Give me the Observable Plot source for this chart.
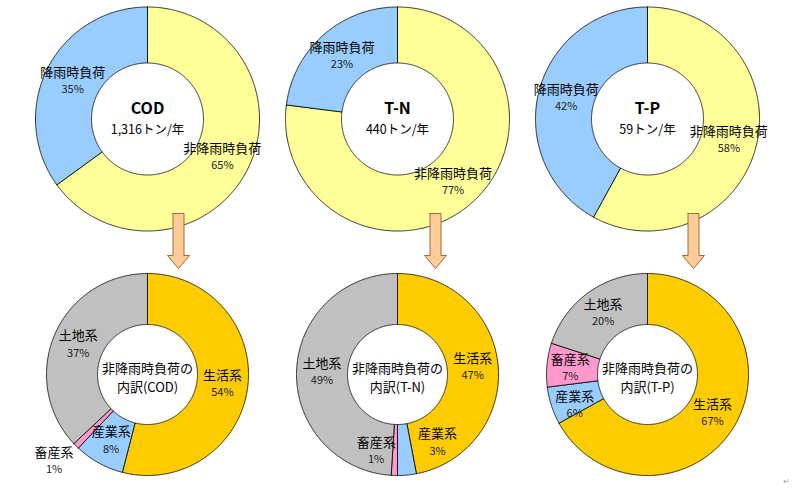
<!DOCTYPE html>
<html>
<head>
<meta charset="utf-8">
<script src="https://cdn.jsdelivr.net/npm/d3@7"></script>
<script src="https://cdn.jsdelivr.net/npm/@observablehq/plot@0.6"></script>
<style>
  html, body { margin: 0; padding: 0; background: #fff; }
  #chart svg { display: block; }
</style>
</head>
<body>
<div id="chart"></div>
<script>
// ---- data ----
const indicators = ["COD", "T-N", "T-P"];
const totals = ["1,316トン/年", "440トン/年", "59トン/年"];
const loadCategories = ["非降雨時負荷", "降雨時負荷"];
const nonRainShare = [65, 77, 58];
const rainShare = [35, 23, 42];
const sourceCategories = ["生活系", "産業系", "畜産系", "土地系"];
const codSources = [54, 8, 1, 37];
const tnSources = [47, 3, 1, 49];
const tpSources = [67, 6, 7, 20];
const breakdownTitle = "非降雨時負荷の";
const breakdownSub = ["内訳(COD)", "内訳(T-N)", "内訳(T-P)"];

// ---- styles / layout ----
const loadColors = ["#FFFF99", "#99CCFF"];
const sourceColors = ["#FFCC00", "#99CCFF", "#FF99CC", "#C0C0C0"];
const centersX = [147, 397, 647];
const topRing = {cy: 118.5, r: 112, r0: 56};
const botRing = {cy: 374, r: 101, r0: 50};
const arrowX = [178, 435, 693];
const arrowGeom = {top: 213, shoulder: 255, tip: 268, shaft: 5.5, head: 11};
// manual label nudges for small slices (ring, slice) -> [dx, dy]
const labelNudge = {"b0-2": [-40, 33], "b1-1": [33, -7], "b1-2": [-19, 1], "b2-1": [-1, 7], "b2-2": [-2, 1]};
const FONT = "'Noto Sans CJK JP', 'Noto Sans', sans-serif";

// ---- geometry built from the data ----
const polys = [];
const labels = [];
function addRing(key, cx, ring, values, names, colors) {
  const total = d3.sum(values);
  let acc = 0;
  values.forEach((v, i) => {
    const a0 = acc / total * 2 * Math.PI;
    acc += v;
    const a1 = acc / total * 2 * Math.PI;
    const id = key + "-" + i;
    const n = Math.max(2, Math.ceil((a1 - a0) / (Math.PI / 360)));
    const pts = [];
    for (let k = 0; k <= n; k++) {
      const a = a0 + (a1 - a0) * k / n;
      pts.push([cx + ring.r * Math.sin(a), ring.cy - ring.r * Math.cos(a)]);
    }
    for (let k = n; k >= 0; k--) {
      const a = a0 + (a1 - a0) * k / n;
      pts.push([cx + ring.r0 * Math.sin(a), ring.cy - ring.r0 * Math.cos(a)]);
    }
    pts.push(pts[0]);
    pts.forEach(([x, y]) => polys.push({id, x, y, color: colors[i]}));
    const am = (a0 + a1) / 2, rm = (ring.r + ring.r0) / 2;
    const [dx, dy] = labelNudge[id] || [0, 0];
    labels.push({
      x: cx + rm * Math.sin(am) + dx,
      y: ring.cy - rm * Math.cos(am) + dy,
      name: names[i],
      pct: v + "%"
    });
  });
}
indicators.forEach((ind, j) => {
  addRing("t" + j, centersX[j], topRing, [nonRainShare[j], rainShare[j]], loadCategories, loadColors);
});
[codSources, tnSources, tpSources].forEach((vals, j) => {
  addRing("b" + j, centersX[j], botRing, vals, sourceCategories, sourceColors);
});

const arrows = [];
arrowX.forEach((x, i) => {
  const g = arrowGeom;
  [[x - g.shaft, g.top], [x + g.shaft, g.top], [x + g.shaft, g.shoulder], [x + g.head, g.shoulder],
   [x, g.tip], [x - g.head, g.shoulder], [x - g.shaft, g.shoulder], [x - g.shaft, g.top]]
    .forEach(([px, py]) => arrows.push({id: "a" + i, x: px, y: py}));
});

const centerTop = indicators.map((ind, j) => ({x: centersX[j], y: topRing.cy, title: ind, sub: totals[j]}));
const centerBot = breakdownSub.map((s, j) => ({x: centersX[j], y: botRing.cy, title: breakdownTitle, sub: s}));

const chart = Plot.plot({
  width: 792,
  height: 490,
  margin: 0,
  x: {domain: [0, 792], range: [0, 792], axis: null},
  y: {domain: [0, 490], range: [0, 490], axis: null},
  color: {type: "identity"},
  style: {fontFamily: FONT, background: "#fff"},
  marks: [
    Plot.line(polys, {x: "x", y: "y", z: "id", fill: "color", stroke: "#000", strokeWidth: 0.8, strokeLinejoin: "round"}),
    Plot.line(arrows, {x: "x", y: "y", z: "id", fill: "#FFCC99", stroke: "#9C6B3A", strokeWidth: 1, strokeLinejoin: "miter"}),
    Plot.text(labels, {x: "x", y: (d) => d.y - 8.5, text: "name", fontSize: 13, fill: "#000", fontFamily: FONT}),
    Plot.text(labels, {x: "x", y: (d) => d.y + 8.5, text: "pct", fontSize: 11, fill: "#222", fontFamily: FONT}),
    Plot.text(centerTop, {x: "x", y: (d) => d.y - 10, text: "title", fontSize: 16, fontWeight: "bold", fill: "#000", fontFamily: FONT}),
    Plot.text(centerTop, {x: "x", y: (d) => d.y + 10.5, text: "sub", fontSize: 12.5, fill: "#000", fontFamily: FONT}),
    Plot.text(centerBot, {x: "x", y: (d) => d.y - 5.5, text: "title", fontSize: 13, fill: "#000", fontFamily: FONT}),
    Plot.text(centerBot, {x: "x", y: (d) => d.y + 13, text: "sub", fontSize: 13, fill: "#000", fontFamily: FONT}),
    Plot.text(["↵"], {x: 786, y: 481, text: (d) => d, fontSize: 8, fill: "#999"})
  ]
});
document.getElementById("chart").appendChild(chart);
</script>
</body>
</html>
